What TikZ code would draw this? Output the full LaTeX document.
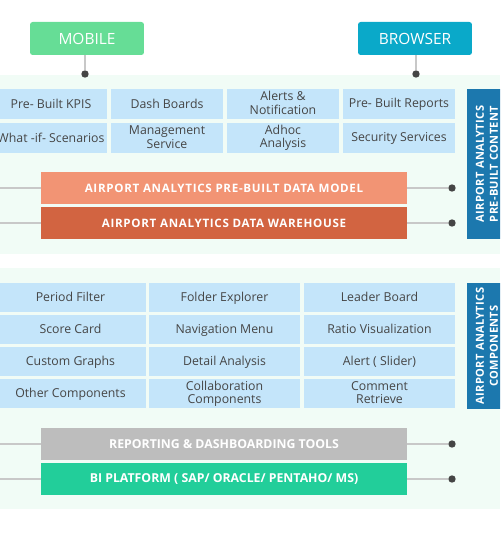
\documentclass[tikz,border=0pt]{standalone}
\usepackage{fontspec}
\setmainfont{Open Sans}
\usepackage{tikz}

\definecolor{mobgreen}{HTML}{66DD96}
\definecolor{browblue}{HTML}{0AA9C9}
\definecolor{cellblue}{HTML}{C4E5FA}
\definecolor{sideblue}{HTML}{1C78AE}
\definecolor{orlight}{HTML}{F29474}
\definecolor{ordark}{HTML}{D26441}
\definecolor{toolgray}{HTML}{BDBDBD}
\definecolor{platgreen}{HTML}{22CE9A}
\definecolor{panelbg}{HTML}{F1FCF6}
\definecolor{txtgray}{HTML}{454545}
\definecolor{linegray}{HTML}{C8C8C8}

\newcommand\cellstrut{\rule[-1.2pt]{0pt}{7.4pt}}

\begin{document}
\begin{tikzpicture}
  [x=0.02cm,y=-0.02cm,
   every node/.style={inner sep=0pt,align=center},
   top/.style={rounded corners=1.5pt,minimum width=2.28cm,minimum height=0.66cm,
     text=white,font=\fontsize{8.8}{10}\selectfont},
   cell/.style={fill=cellblue,minimum width=2.24cm,minimum height=0.59cm,
     text=txtgray,font=\fontsize{7}{7.6}\selectfont,
     execute at begin node=\cellstrut,execute at end node=\cellstrut},
   wcell/.style={cell,minimum width=3.02cm,minimum height=0.58cm},
   bar/.style={minimum width=7.32cm,minimum height=0.63cm,text=white,
     font=\fontsize{7}{8}\bfseries\selectfont},
   side/.style={fill=sideblue,minimum height=0.8cm,text=white,
     font=\fontsize{6.3}{8}\bfseries\addfontfeature{LetterSpace=3}\selectfont},
   link/.style={draw=linegray,line width=0.6pt},
   dot/.style={circle,fill=txtgray,minimum size=4.2pt}]
\useasboundingbox (0,0) rectangle (500,550);
\clip (0,0) rectangle (500,550);

% panels
\fill [panelbg] (0,75) rectangle (500,254);
\fill [panelbg] (0,268) rectangle (500,509);

% top boxes
\node [top,fill=mobgreen]  (mobile)  at (87,38.5)  {MOBILE};
\node [top,fill=browblue]  (browser) at (415,38.5) {BROWSER};
\node [dot] (mobdot)  at (85,74) {};
\node [dot] (browdot) at (416,74) {};
\draw [link] (mobile.south -| mobdot) -- (mobdot);
\draw [link] (browser.south -| browdot) -- (browdot);

% pre-built content
\node [cell] (c11) at (51,104)  {Pre- Built KPIS};
\node [cell] (c21) at (167,104) {Dash Boards};
\node [cell] (c31) at (283,104) {Alerts \&\\Notification};
\node [cell] (c41) at (399,104) {Pre- Built Reports};
\node [cell] (c12) at (51,138)  {What -if- Scenarios};
\node [cell] (c22) at (167,138) {Management\\Service};
\node [cell] (c32) at (283,138) {Adhoc\\Analysis};
\node [cell] (c42) at (399,138) {Security Services};

\node [bar,fill=orlight,font=\fontsize{6.6}{8}\bfseries\addfontfeature{LetterSpace=6}\selectfont]
  (model) at (224,188) {AIRPORT ANALYTICS PRE-BUILT DATA MODEL};
\node [bar,fill=ordark,font=\fontsize{6.6}{8}\bfseries\addfontfeature{LetterSpace=6}\selectfont]
  (dwh) at (224,223) {AIRPORT ANALYTICS DATA WAREHOUSE};

\node [side,minimum width=3cm,rotate=90] (content) at (487,164)
  {AIRPORT ANALYTICS\\PRE-BUILT CONTENT};

% components
\node [wcell] (k11) at (70.5,297.5)  {Period Filter};
\node [wcell] (k21) at (224.5,297.5) {Folder Explorer};
\node [wcell] (k31) at (379.5,297.5) {Leader Board};
\node [wcell] (k12) at (70.5,329.5)  {Score Card};
\node [wcell] (k22) at (224.5,329.5) {Navigation Menu};
\node [wcell] (k32) at (379.5,329.5) {Ratio Visualization};
\node [wcell] (k13) at (70.5,361.5)  {Custom Graphs};
\node [wcell] (k23) at (224.5,361.5) {Detail Analysis};
\node [wcell] (k33) at (379.5,361.5) {Alert ( Slider)};
\node [wcell] (k14) at (70.5,393.5)  {Other Components};
\node [wcell] (k24) at (224.5,393.5) {Collaboration\\Components};
\node [wcell] (k34) at (379.5,393.5) {Comment\\Retrieve};

\node [side,minimum width=2.52cm,rotate=90] (comps) at (487,346)
  {AIRPORT ANALYTICS\\COMPONENTS};

\node [bar,fill=toolgray]  (tools)    at (224,444) {REPORTING \& DASHBOARDING TOOLS};
\node [bar,fill=platgreen] (platform) at (224,479) {BI PLATFORM ( SAP/ ORACLE/ PENTAHO/ MS)};

% side links
\coordinate (leftedge) at (0,0) ;
\coordinate (dotline) at (452,0) ;
\foreach \b in {model,dwh,tools,platform} {
  \coordinate (\b l) at (leftedge |- \b.west) ;
  \node [dot] (\b d) at (dotline |- \b.east) {} ;
  \draw [link] (\b l) -- (\b.west) (\b.east) -- (\b d) ;
}
\end{tikzpicture}
\end{document}
